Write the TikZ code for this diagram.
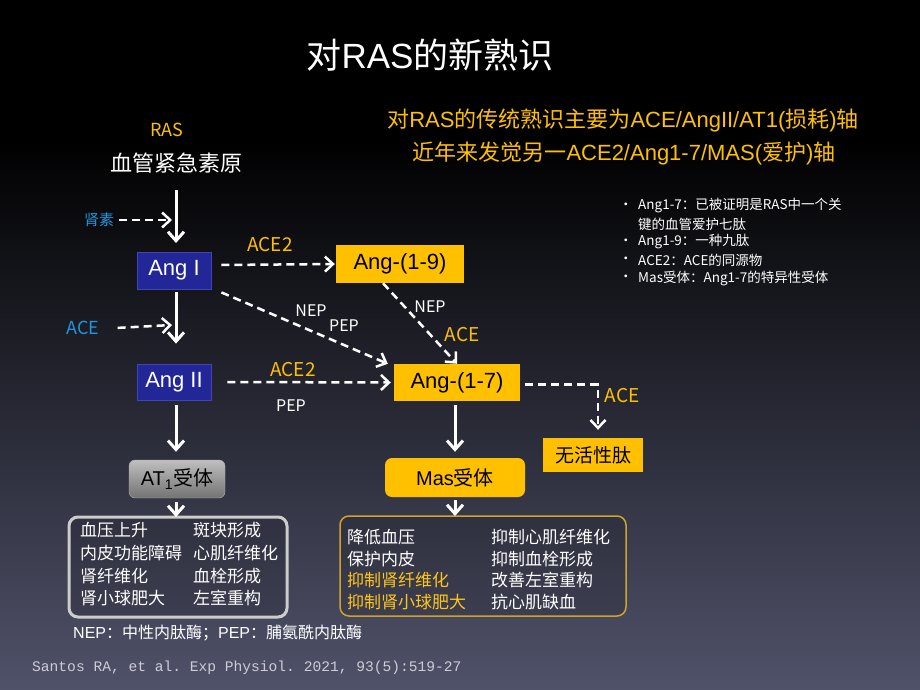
\documentclass[tikz,border=0pt]{standalone}
\usepackage{fontspec}
\setmainfont{Liberation Sans}
\setmonofont{Liberation Mono}
\newfontfamily\cjk{Noto Sans CJK SC}
\usetikzlibrary{arrows.meta,calc}
\definecolor{gold}{RGB}{255,192,0}
\definecolor{cyanl}{RGB}{30,150,220}
\definecolor{boxblue}{RGB}{34,38,150}
\definecolor{boxblueline}{RGB}{60,70,185}
\definecolor{bgbot}{RGB}{80,82,106}
\definecolor{goldline}{RGB}{205,165,45}
\definecolor{citegrey}{RGB}{205,205,215}
\newcommand{\myfs}[1]{\fontsize{#1}{#1}\selectfont}
\tikzset{
  darr/.style={white, line width=2.5pt, dash pattern=on 8pt off 5pt,
    -{Straight Barb[length=8pt,width=15pt]}},
  sarr/.style={white, line width=3pt, -{Straight Barb[length=9pt,width=16pt]}},
  bluebox/.style={fill=boxblue, draw=boxblueline, line width=0.8pt, text=white,
    minimum height=37pt, inner sep=0pt, font=\myfs{22}},
  goldbox/.style={fill=gold, text=black, inner sep=0pt, minimum height=38pt, font=\myfs{22}},
  lbl/.style={inner sep=0pt, font=\cjk\myfs{19}},
  wlbl/.style={inner sep=0pt, font=\cjk\myfs{16}, text=white},
  celltext/.style={inner sep=0pt, anchor=west, font=\cjk\myfs{17}, text=white},
  bul/.style={inner sep=0pt, anchor=west, font=\cjk\myfs{13.5}, text=white},
}
\begin{document}
\begin{tikzpicture}[x=1pt,y=-1pt]
% background
\fill[black] (0,0) rectangle (920,690);
\shade[top color=black, bottom color=bgbot] (0,140) rectangle (920,690);
\useasboundingbox (0,0) rectangle (920,690);

% title and header
\node[inner sep=0pt, text=white, font=\myfs{35}] (title) at (430,55) {{\cjk 对}RAS{\cjk 的新熟识}};
\node[inner sep=0pt, text=gold, font=\myfs{22}] (hdr1) at (623,120)
  {{\cjk 对}RAS{\cjk 的传统熟识主要为}ACE/AngII/AT1({\cjk 损耗}){\cjk 轴}};
\node[inner sep=0pt, text=gold, font=\myfs{22}] (hdr2) at (624,153)
  {{\cjk 近年来发觉另一}ACE2/Ang1-7/MAS({\cjk 爱护}){\cjk 轴}};

% bullets
\node[bul] (b1) at (619,206) {•};
\node[bul] (t1) at (638,206) {Ang1-7：已被证明是RAS中一个关};
\node[bul] (t1b) at (638,224) {键的血管爱护七肽};
\node[bul] (b2) at (619,242) {•};
\node[bul] (t2) at (638,242) {Ang1-9：一种九肽};
\node[bul] (b3) at (619,260) {•};
\node[bul] (t3) at (638,260) {ACE2：ACE的同源物};
\node[bul] (b4) at (619,278) {•};
\node[bul] (t4) at (638,278) {Mas受体：Ang1-7的特异性受体};

% left column
\node[inner sep=0pt, text=gold, font=\cjk\myfs{18}] (ras) at (167,130) {RAS};
\node[inner sep=0pt, text=white, font=\cjk\myfs{22}] (proto) at (176,163) {血管紧急素原};
\node[inner sep=0pt, text=cyanl, font=\cjk\myfs{15}] (renin) at (99,220) {肾素};
\node[bluebox, minimum width=74pt] (angI) at (174,270.5) {Ang I};
\node[inner sep=0pt, text=cyanl, font=\cjk\myfs{18}] (acec) at (83,328) {ACE};
\node[bluebox, minimum width=74pt, minimum height=36pt] (angII) at (174,382) {Ang II};
\node[rounded corners=6pt, top color=black!25, bottom color=black!55, draw=black!30,
  minimum width=96pt, minimum height=38pt, inner sep=0pt, text=black, font=\myfs{20}]
  (at1) at (177,479) {AT\textsubscript{1}{\cjk 受体}};
\draw[draw=black!20, line width=3pt, rounded corners=9pt, fill=black, fill opacity=0.12]
  (69,517) rectangle (287,617);
\coordinate (lboxn) at (177,517);

% middle/right nodes
\node[goldbox, minimum width=128pt] (ang19) at (400,264) {Ang-(1-9)};
\node[goldbox, minimum width=126pt, minimum height=37pt] (ang17) at (457,382.5) {Ang-(1-7)};
\node[goldbox, minimum width=100pt, minimum height=34pt, font=\cjk\myfs{19}] (wuhuo) at (593,455) {无活性肽};
\node[goldbox, rounded corners=7pt, minimum width=140pt, minimum height=39pt, font=\myfs{20}]
  (mas) at (455,477.5) {Mas{\cjk 受体}};
\draw[goldline, line width=1.5pt, rounded corners=9pt, fill=black, fill opacity=0.12]
  (340,516) rectangle (626,616);
\coordinate (rboxn) at (455,516);

% labels
\node[lbl, text=gold] (ace2a) at (270,245) {ACE2};
\node[wlbl] (nep1) at (311,311) {NEP};
\node[wlbl] (pep1) at (344,326) {PEP};
\node[wlbl] (nep2) at (430,307) {NEP};
\node[lbl, text=gold] (acey) at (462,335) {ACE};
\node[lbl, text=gold] (ace2b) at (293,370) {ACE2};
\node[wlbl] (pep2) at (291,406) {PEP};
\node[lbl, text=gold] (acer) at (622,396) {ACE};

% connectors
\coordinate (p1) at (176,190);
\coordinate (p2) at (176,243);
\draw[sarr] (p1) -- (p2);
\coordinate (r1) at (172,220);
\draw[darr, shorten <=5pt] (renin.east) -- (r1);
\draw[darr] ([xshift=10pt,yshift=5.5pt]angI.east) -- ([xshift=-1pt]ang19.west);
\draw[darr] ([xshift=10pt,yshift=-3pt]angI.south east) -- ([xshift=-6pt]ang17.north west);
\draw[darr] ([xshift=-17pt]ang19.south) -- ([xshift=0pt]ang17.north);
\draw[sarr] ([yshift=-3pt]angI.south -| p1) -- ([yshift=20pt]angII.north -| p1);
\coordinate (a1) at (172,325);
\draw[darr, shorten <=2pt] (acec.east) ++(16,0) -- (a1);
\draw[darr] ([xshift=16pt]angII.east) -- ([xshift=-3pt]ang17.west);
\draw[darr] ([xshift=5pt,yshift=-2pt]ang17.east) -| ([xshift=5pt,yshift=8pt]wuhuo.north);
\draw[sarr] ($(mas.north |- ang17.south)+(0,4)$) -- ([yshift=6pt]mas.north);
\draw[sarr] ($(mas.south)+(0,3)$) -- (rboxn);
\draw[sarr] ($(angII.south -| p1)+(0,5)$) -- ([yshift=8pt]at1.north -| p1);
\draw[sarr] ($(at1.south -| p1)+(0,4)$) -- (lboxn -| p1);

% left effects box
\node[celltext] (l11) at (80,530) {血压上升};
\node[celltext] (l12) at (193,530) {斑块形成};
\node[celltext] (l21) at (80,553) {内皮功能障碍};
\node[celltext] (l22) at (193,553) {心肌纤维化};
\node[celltext] (l31) at (80,576) {肾纤维化};
\node[celltext] (l32) at (193,576) {血栓形成};
\node[celltext] (l41) at (80,598) {肾小球肥大};
\node[celltext] (l42) at (193,598) {左室重构};

% right effects box
\node[celltext] (r11) at (347,537) {降低血压};
\node[celltext] (r12) at (491,537) {抑制心肌纤维化};
\node[celltext] (r21) at (347,559) {保护内皮};
\node[celltext] (r22) at (491,559) {抑制血栓形成};
\node[celltext, text=gold!90!white] (r31) at (347,580) {抑制肾纤维化};
\node[celltext] (r32) at (491,580) {改善左室重构};
\node[celltext, text=gold!90!white] (r41) at (347,602) {抑制肾小球肥大};
\node[celltext] (r42) at (491,602) {抗心肌缺血};

% footnotes
\node[inner sep=0pt, anchor=west, text=white, font=\myfs{16}] (foot) at (73,633)
  {NEP{\cjk ：中性内肽酶；}PEP{\cjk ：脯氨酰内肽酶}};
\node[inner sep=0pt, anchor=west, text=citegrey, font=\ttfamily\myfs{14.6}] (cite) at (32,668)
  {Santos RA, et al. Exp Physiol. 2021, 93(5):519-27};
\end{tikzpicture}
\end{document}
